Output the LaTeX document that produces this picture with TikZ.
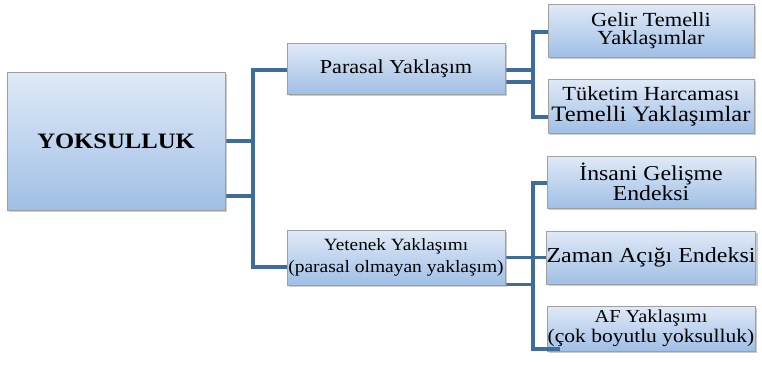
\documentclass[tikz,border=0pt]{standalone}
\usepackage{fontspec}
\setmainfont{Liberation Serif}[FakeStretch=1.12]
\usetikzlibrary{shadows}
\definecolor{conn}{RGB}{62,108,155}
\definecolor{boxtop}{RGB}{224,234,247}
\definecolor{boxbot}{RGB}{160,191,229}
\pgfdeclarelayer{background}
\pgfsetlayers{background,main}
\begin{document}
\begin{tikzpicture}[x=1pt,y=-1pt,
  box/.style={draw=gray!75, line width=0.6pt, top color=boxtop, bottom color=boxbot,
    drop shadow={shadow xshift=2pt,shadow yshift=-2pt,fill=black!40},
    inner sep=0pt, align=center, text=black},
  link/.style={draw=conn, line width=3.6pt, line cap=rect}]
\useasboundingbox (0,0) rectangle (762,364);
\node[box, minimum width=218pt, minimum height=138pt] (yok) at (116,141)
  {\fontsize{22}{24}\selectfont\bfseries YOKSULLUK};
\node[box, minimum width=218pt, minimum height=51pt, font=\fontsize{19.8}{20}\selectfont] (par) at (396,68.5)
  {Parasal Yaklaşım};
\node[box, minimum width=218pt, minimum height=55pt, font=\fontsize{17.2}{22}\selectfont] (yet) at (396,257.5)
  {Yetenek Yaklaşımı\\{\fontsize{17.4}{22}\selectfont (parasal olmayan yaklaşım)}};
\node[box, minimum width=206pt, minimum height=53pt, font=\fontsize{20}{18.5}\selectfont] (gel) at (651,30.5)
  {Gelir Temelli\\Yaklaşımlar};
\node[box, minimum width=206pt, minimum height=54pt, font=\fontsize{20}{21}\selectfont] (tuk) at (651,106)
  {Tüketim Harcaması\\{\fontsize{22}{21}\selectfont Temelli Yaklaşımlar}};
\node[box, minimum width=208pt, minimum height=52pt, font=\fontsize{21.2}{20.5}\selectfont] (ins) at (651,182)
  {İnsani Gelişme\\Endeksi};
\node[box, minimum width=208pt, minimum height=53pt, font=\fontsize{21.4}{22}\selectfont] (zam) at (651,257.5)
  {Zaman Açığı Endeksi};
\node[box, minimum width=208pt, minimum height=45pt, font=\fontsize{18.2}{19.5}\selectfont] (af) at (651,328.5)
  {AF Yaklaşımı\\{\fontsize{19.2}{19.5}\selectfont(çok boyutlu yoksulluk)}};
\coordinate (b1t) at (253,70);
\coordinate (b1b) at (253,267);
\coordinate (b2t) at (533,32);
\coordinate (b2b) at (533,117);
\coordinate (b3t) at (533,183);
\coordinate (b3b) at (533,349);
\begin{pgfonlayer}{background}
\draw[link] (b1t) -- (b1b);
\draw[link] (b1t) -- (b1t -| par.west);
\draw[link] (b1b) -- (b1b -| yet.west);
\draw[link] (yok.east) -- (yok.east -| b1t);
\draw[link] ([yshift=-55pt]yok.east) -- ++(28,0);
\draw[link] ([yshift=-1.5pt]par.east) -- ++(28,0);
\draw[link] ([yshift=-13.5pt]par.east) -- ++(28,0);
\draw[link] (b2t) -- (b2b);
\draw[link] (b2t) -- (b2t -| gel.west);
\draw[link] (b2b) -- (b2b -| tuk.west);
\draw[link] (yet.east) -- ++(28,0);
\draw[link] ([yshift=-27pt]yet.east) -- ++(28,0);
\draw[link] (b3t) -- (b3b);
\draw[link] (b3t) -- (b3t -| ins.west);
\draw[link] (zam.west -| b3t) -- (zam.west);
\end{pgfonlayer}
\draw[link, line cap=butt] ([xshift=-1.8pt]b3b) -- ([xshift=13pt]af.south west |- b3b);
\end{tikzpicture}
\end{document}
